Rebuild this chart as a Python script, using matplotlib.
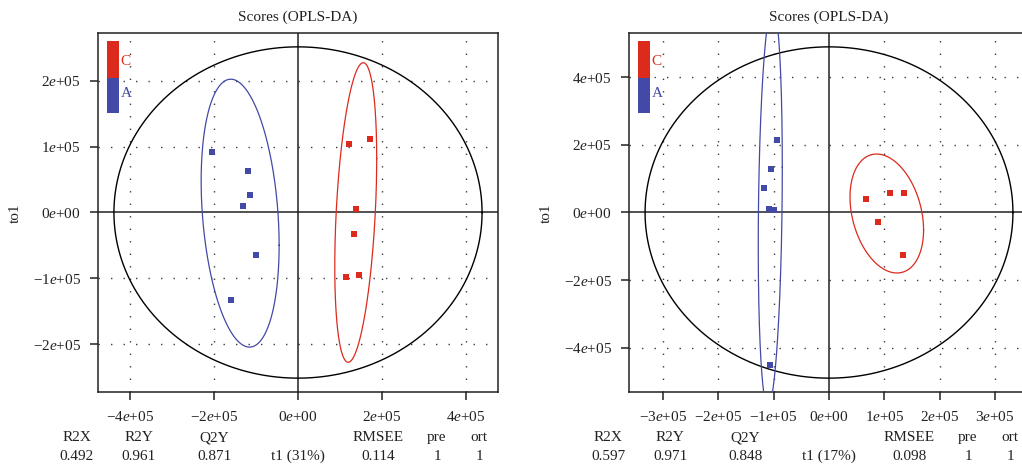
import numpy as np
import matplotlib
matplotlib.use("Agg")
import matplotlib.pyplot as plt
from matplotlib.patches import Rectangle

plt.rcParams['font.family'] = ['Liberation Serif', 'DejaVu Serif']
plt.rcParams['mathtext.fontset'] = 'custom'
plt.rcParams['mathtext.rm'] = 'Liberation Serif'
plt.rcParams['mathtext.it'] = 'Liberation Serif:italic'
plt.rcParams['lines.scale_dashes'] = False

RED = '#DC2A1C'
BLUE = '#4349A6'
DARK = '#222222'

# ---------------- data (units of 1e5) ----------------
# Left panel
l_blue_x = [-2.06, -1.19, -1.15, -1.30, -1.01, -1.60]
l_blue_y = [0.92, 0.63, 0.26, 0.095, -0.64, -1.32]
l_red_x = [1.21, 1.71, 1.38, 1.34, 1.15, 1.45]
l_red_y = [1.035, 1.11, 0.05, -0.33, -0.98, -0.95]
# ellipses: (cx, cy, sx, sy, rho)
l_ell_all = (0.0, 0.0, 4.39, 2.51, 0.0)
l_ell_blue = (-1.38, -0.01, 0.93, 2.03, -0.24)
l_ell_red = (1.377, 0.0, 0.50, 2.27, 0.36)
l_xticks = [-4, -2, 0, 2, 4]
l_yticks = [-2, -1, 0, 1, 2]
l_stats = ['0.492', '0.961', '0.871', 't1 (31%)', '0.114', '1', '1']

# Right panel
r_blue_x = [-0.93, -1.05, -1.18, -1.09, -1.00, -1.07]
r_blue_y = [2.15, 1.29, 0.73, 0.11, 0.06, -4.5]
r_red_x = [0.67, 1.11, 1.36, 0.89, 1.34]
r_red_y = [0.405, 0.59, 0.59, -0.27, -1.25]
r_ell_all = (0.0, 0.0, 3.32, 4.90, 0.0)
r_ell_blue = (-1.06, 0.18, 0.217, 5.92, 0.195)
r_ell_red = (1.043, -0.03, 0.664, 1.76, -0.277)
r_xticks = [-3, -2, -1, 0, 1, 2, 3]
r_yticks = [-4, -2, 0, 2, 4]
r_stats = ['0.597', '0.971', '0.848', 't1 (17%)', '0.098', '1', '1']

stat_names = ['R2X', 'R2Y', 'Q2Y', '', 'RMSEE', 'pre', 'ort']
stat_offsets_px = [-21, 41, 116, 200, 280, 339, 381]  # relative to axes left

groups = ['C', 'A']
SCALE = 1e5

W, H = 1022, 473
fig = plt.figure(figsize=(W / 100, H / 100), dpi=100)


def fmt(v):
    if v == 0:
        return '0$e$+00'
    s = '\u2212' if v < 0 else ''
    return f'{s}{abs(v)}$e$+05'


def ellipse(ax, params, color, lw):
    cx, cy, sx, sy, rho = params
    t = np.linspace(0, 2 * np.pi, 400)
    x = cx + sx * np.cos(t)
    y = cy + sy * (rho * np.cos(t) + np.sqrt(1 - rho ** 2) * np.sin(t))
    ax.plot(x * SCALE, y * SCALE, color=color, lw=lw, zorder=3)


def panel(left_px, xlim, ylim, xticks, yticks, bx, by, rx, ry, e_all, e_b, e_r, stats):
    ax = fig.add_axes([left_px / W, (H - 392) / H, 400 / W, 359 / H])
    ax.set_xlim(-xlim * SCALE, xlim * SCALE)
    ax.set_ylim(-ylim * SCALE, ylim * SCALE)
    for sp in ax.spines.values():
        sp.set_linewidth(1.1)
        sp.set_color(DARK)
    dot = (0, (1.0, 8.0))
    for v in xticks:
        if v != 0:
            ax.axvline(v * SCALE, color='#3a3a3a', lw=1.0, ls=dot, zorder=1)
    for v in yticks:
        if v != 0:
            ax.axhline(v * SCALE, color='#3a3a3a', lw=1.0, ls=dot, zorder=1)
    ax.axvline(0, color=DARK, lw=1.1, zorder=2)
    ax.axhline(0, color=DARK, lw=1.1, zorder=2)
    ellipse(ax, e_all, 'black', 1.0)
    ellipse(ax, e_b, BLUE, 0.9)
    ellipse(ax, e_r, RED, 0.9)
    ax.plot(np.array(bx) * SCALE, np.array(by) * SCALE, 's', color=BLUE, ms=4.6, mew=0, zorder=4)
    ax.plot(np.array(rx) * SCALE, np.array(ry) * SCALE, 's', color=RED, ms=4.6, mew=0, zorder=4)
    ax.set_xticks([v * SCALE for v in xticks])
    ax.set_xticklabels([fmt(v) for v in xticks])
    ax.set_yticks([v * SCALE for v in yticks])
    ax.set_yticklabels([fmt(v) for v in yticks])
    ax.tick_params(axis='both', direction='out', length=5.8, width=1.1, color=DARK,
                   labelsize=11, labelcolor='#222222')
    ax.tick_params(axis='x', pad=7)
    ax.tick_params(axis='y', pad=6.5)
    # legend color bar
    ax.add_patch(Rectangle((9 / 400, (392 - 77.7) / 359), 12 / 400, 36.7 / 359,
                           transform=ax.transAxes, color=RED, lw=0, zorder=5))
    ax.add_patch(Rectangle((9 / 400, (392 - 112.7) / 359), 12 / 400, 35 / 359,
                           transform=ax.transAxes, color=BLUE, lw=0, zorder=5))
    ax.text(22.5 / 400, (392 - 62) / 359, groups[0], color=RED, fontsize=11,
            transform=ax.transAxes, va='center', ha='left', zorder=6)
    ax.text(22.5 / 400, (392 - 94) / 359, groups[1], color=BLUE, fontsize=11,
            transform=ax.transAxes, va='center', ha='left', zorder=6)
    ax.set_title('Scores (OPLS-DA)', fontsize=11, pad=9, color='#222222')
    # stats text
    for name, val, off in zip(stat_names, stats, stat_offsets_px):
        xf = (left_px + off) / W
        if name:
            fig.text(xf, 1 - 437.7 / H, name, ha='center', va='center', fontsize=11, color='#222222')
        fig.text(xf, 1 - 456.7 / H, val, ha='center', va='center', fontsize=11, color='#222222')
    fig.text((left_px - 83) / W, 1 - 213 / H, 'to1', rotation=90, ha='center', va='center',
             fontsize=11, color='#222222')
    return ax


panel(98, 4.77, 2.72, l_xticks, l_yticks, l_blue_x, l_blue_y, l_red_x, l_red_y,
      l_ell_all, l_ell_blue, l_ell_red, l_stats)
panel(629, 3.61, 5.31, r_xticks, r_yticks, r_blue_x, r_blue_y, r_red_x, r_red_y,
      r_ell_all, r_ell_blue, r_ell_red, r_stats)

fig.savefig('out.png', dpi=100)
